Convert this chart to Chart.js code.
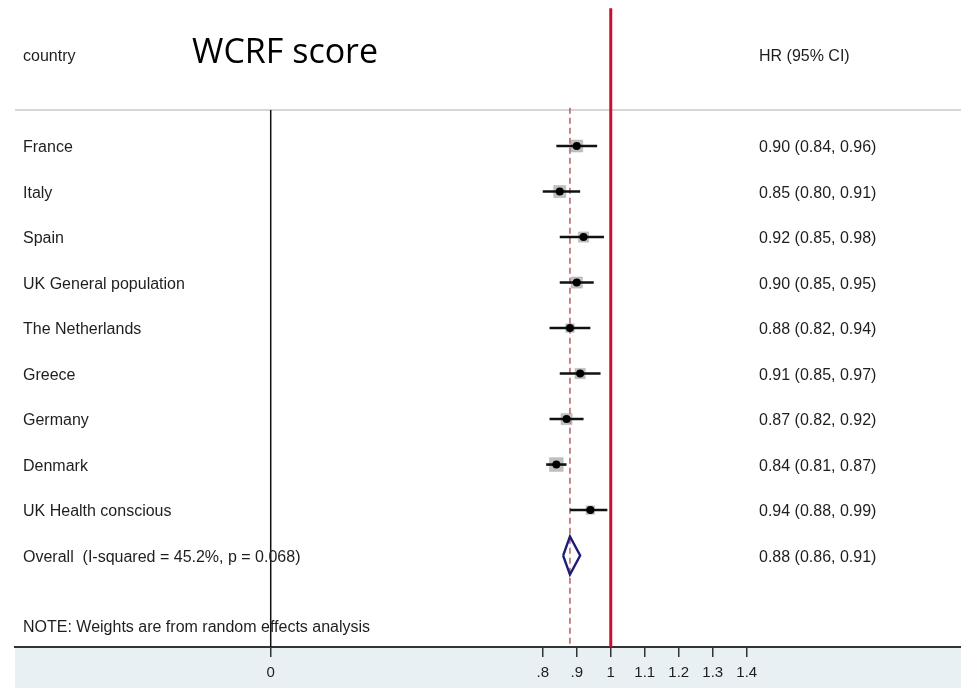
<!DOCTYPE html>
<html>
<head>
<meta charset="utf-8">
<script src="https://cdn.jsdelivr.net/npm/chart.js@4/dist/chart.umd.min.js"></script>
<style>
  html, body { margin: 0; padding: 0; background: #fff; overflow: hidden; }
  canvas { display: block; }
</style>
</head>
<body>
<canvas id="forest" width="961" height="688"></canvas>
<script>
// Forest plot data
const countries = ['France', 'Italy', 'Spain', 'UK General population', 'The Netherlands',
                   'Greece', 'Germany', 'Denmark', 'UK Health conscious'];
const hr    = [0.90, 0.85, 0.92, 0.90, 0.88, 0.91, 0.87, 0.84, 0.94];
const lower = [0.84, 0.80, 0.85, 0.85, 0.82, 0.85, 0.82, 0.81, 0.88];
const upper = [0.96, 0.91, 0.98, 0.95, 0.94, 0.97, 0.92, 0.87, 0.99];
// study weights (%), estimated from the grey square sizes
const weights = [13.3, 13.3, 9.8, 11.5, 6.8, 9.8, 11.5, 17.4, 6.8];

const overallLabel = 'Overall  (I-squared = 45.2%, p = 0.068)';
const overallHr = 0.88, overallLow = 0.86, overallHigh = 0.91;

const tickValues = [0, 0.8, 0.9, 1, 1.1, 1.2, 1.3, 1.4];
const noteText = 'NOTE: Weights are from random effects analysis';

const fmt = v => v.toFixed(2);
const ciText = (h, l, u) => fmt(h) + ' (' + fmt(l) + ', ' + fmt(u) + ')';

const overallRow = countries.length;
const noteRow = overallRow + 1.53;
const headerRow = -0.79;
const Y_MIN = -3.21, Y_MAX = 11.01;

// build datasets
const datasets = [];

// grey weight squares
datasets.push({
    type: 'scatter',
    data: hr.map((h, i) => ({ x: h, y: i })),
    pointStyle: 'rect',
    pointRadius: weights.map(w => 3.3 * Math.sqrt(w) / Math.SQRT2),
    backgroundColor: 'rgba(140,140,140,0.55)',
    borderColor: 'rgba(150,150,150,0.3)',
    borderWidth: 1,
    order: 5
});

// confidence interval lines
countries.forEach((c, i) => {
    datasets.push({
        type: 'line',
        data: [{ x: lower[i], y: i }, { x: upper[i], y: i }],
        borderColor: '#111',
        borderWidth: 2.6,
        pointRadius: 0,
        order: 3
    });
});

// point estimates
datasets.push({
    type: 'scatter',
    data: hr.map((h, i) => ({ x: h, y: i })),
    pointStyle: 'circle',
    pointRadius: 4,
    backgroundColor: '#000',
    borderColor: '#000',
    borderWidth: 0,
    order: 1
});

// overall diamond
datasets.push({
    type: 'line',
    data: [
        { x: overallLow, y: overallRow },
        { x: overallHr, y: overallRow - 0.42 },
        { x: overallHigh, y: overallRow },
        { x: overallHr, y: overallRow + 0.42 },
        { x: overallLow, y: overallRow }
    ],
    borderColor: '#1c1c78',
    borderWidth: 2.4,
    pointRadius: 0,
    tension: 0,
    order: 2
});

// null line at 0 (black), line of no effect at 1 (red), overall estimate (dashed)
datasets.push({
    type: 'line',
    data: [{ x: 0, y: headerRow }, { x: 0, y: Y_MAX }],
    borderColor: '#111', borderWidth: 1.5, pointRadius: 0, order: 6
});
datasets.push({
    type: 'line',
    data: [{ x: 1, y: -3.03 }, { x: 1, y: Y_MAX }],
    borderColor: '#c8102e', borderWidth: 3, pointRadius: 0, order: 6
});
datasets.push({
    type: 'line',
    data: [{ x: overallHr, y: headerRow - 0.05 }, { x: overallHr, y: Y_MAX }],
    borderColor: '#b0605f', borderWidth: 1.5, borderDash: [6, 4], pointRadius: 0, order: 7
});

// texts + background decorations
const forestText = {
    id: 'forestText',
    beforeDraw(chart) {
        const { ctx, chartArea, scales } = chart;
        ctx.save();
        // bottom band
        ctx.fillStyle = '#e9f0f3';
        ctx.fillRect(chartArea.left, chartArea.bottom, chartArea.right - chartArea.left, chart.height - chartArea.bottom);
        // header divider
        const hy = scales.y.getPixelForValue(headerRow);
        ctx.strokeStyle = '#d6d6d6';
        ctx.lineWidth = 2;
        ctx.beginPath();
        ctx.moveTo(chartArea.left, hy);
        ctx.lineTo(chartArea.right, hy);
        ctx.stroke();
        ctx.restore();
    },
    afterDraw(chart) {
        const { ctx, scales } = chart;
        const xL = 23, xR = 759, dy = 2;
        ctx.save();
        ctx.fillStyle = '#1e1e1e';
        ctx.textBaseline = 'middle';
        ctx.textAlign = 'left';
        ctx.font = '16px "Liberation Sans", Arial, sans-serif';
        ctx.fillText('country', xL, 55 + dy);
        ctx.fillText('HR (95% CI)', xR, 55 + dy);
        countries.forEach((c, i) => {
            const y = scales.y.getPixelForValue(i) + dy;
            ctx.fillText(c, xL, y);
            ctx.fillText(ciText(hr[i], lower[i], upper[i]), xR, y);
        });
        const oy = scales.y.getPixelForValue(overallRow) + dy;
        ctx.fillText(overallLabel, xL, oy);
        ctx.fillText(ciText(overallHr, overallLow, overallHigh), xR, oy);
        ctx.fillText(noteText, xL, scales.y.getPixelForValue(noteRow) + dy);
        ctx.fillStyle = '#000';
        ctx.font = '34px "Open Sans", sans-serif';
        ctx.fillText('WCRF score', 192, 53);
        ctx.restore();
    }
};

new Chart(document.getElementById('forest'), {
    data: { datasets: datasets },
    options: {
        responsive: false,
        animation: false,
        layout: { autoPadding: false, padding: { left: 15, right: 0, top: 0, bottom: 0 } },
        plugins: { legend: { display: false }, tooltip: { enabled: false } },
        scales: {
            x: {
                type: 'linear',
                min: -0.752,
                max: 2.03,
                afterBuildTicks: scale => { scale.ticks = tickValues.map(v => ({ value: v })); },
                afterFit: scale => { scale.height = 41; },
                ticks: {
                    autoSkip: false,
                    maxRotation: 0,
                    padding: 7,
                    color: '#1e1e1e',
                    font: { family: '"Liberation Sans", Arial, sans-serif', size: 15 },
                    callback: v => (v > 0 && v < 1) ? String(v).replace(/^0/, '') : String(v)
                },
                grid: {
                    drawOnChartArea: false,
                    drawTicks: true,
                    tickLength: 10,
                    color: '#333',
                    lineWidth: 1.5
                },
                border: { display: true, color: '#333', width: 2 }
            },
            y: {
                type: 'linear',
                display: false,
                reverse: true,
                min: Y_MIN,
                max: Y_MAX
            }
        }
    },
    plugins: [forestText]
});
</script>
</body>
</html>
